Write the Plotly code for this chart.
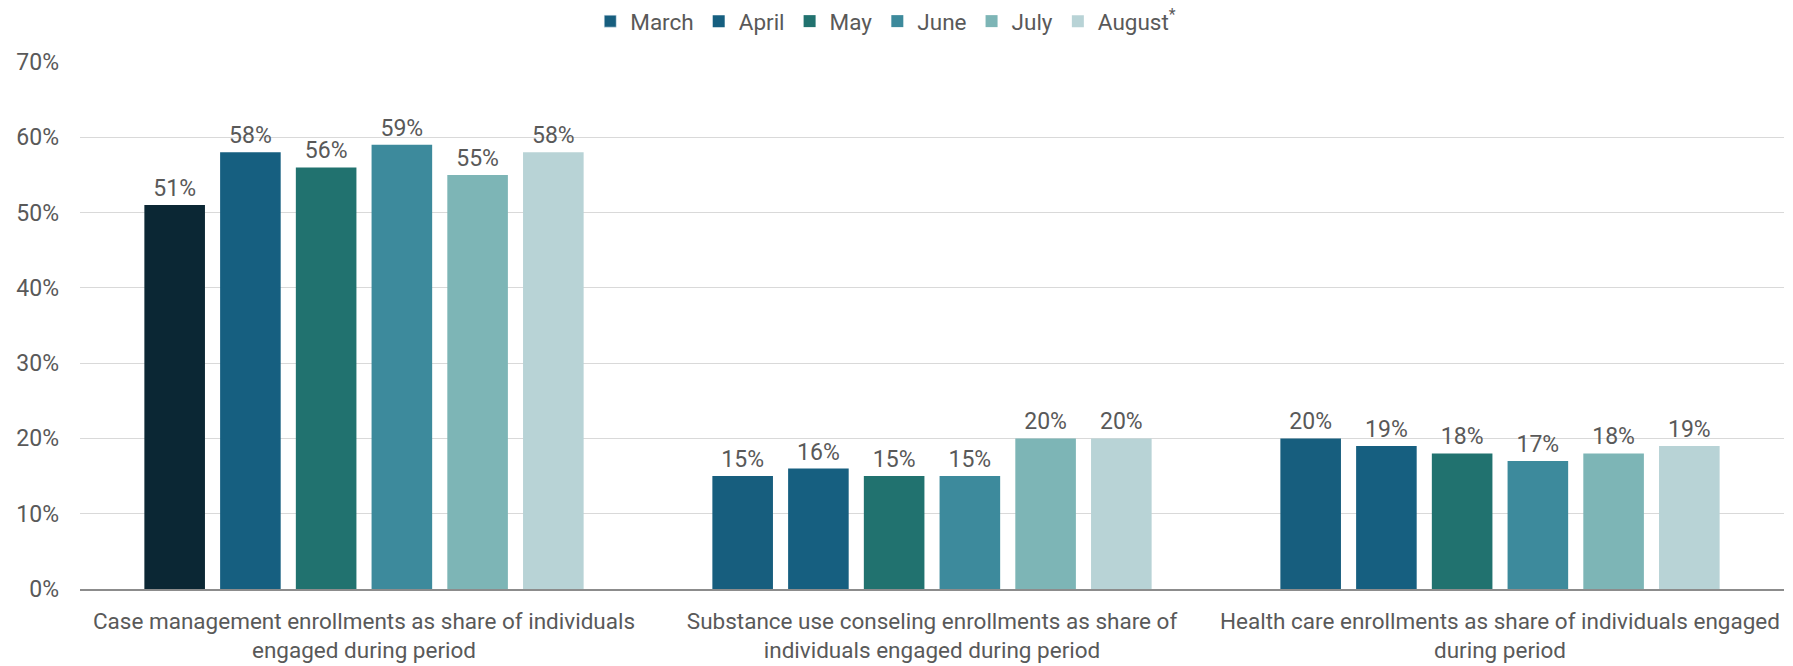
import plotly.graph_objects as go

categories = [
    "Case management enrollments as share of individuals<br>engaged during period",
    "Substance use conseling enrollments as share of<br>individuals engaged during period",
    "Health care enrollments as share of individuals engaged<br>during period",
]
months = ["March", "April", "May", "June", "July", "August<sup>*</sup>"]
march = [0.51, 0.15, 0.20]
april = [0.58, 0.16, 0.19]
may = [0.56, 0.15, 0.18]
june = [0.59, 0.15, 0.17]
july = [0.55, 0.20, 0.18]
august = [0.58, 0.20, 0.19]
series = [march, april, may, june, july, august]

colors = ["#175e7e", "#165f80", "#21726f", "#3d8a9c", "#7db5b6", "#b8d3d6"]
march_bar_colors = ["#0b2734", "#175e7e", "#175e7e"]

font_family = "Roboto, 'Noto Sans', sans-serif"
text_color = "#595959"

fig = go.Figure()
for i, (name, vals) in enumerate(zip(months, series)):
    mc = march_bar_colors if i == 0 else colors[i]
    fig.add_trace(go.Bar(
        x=categories, y=vals, name=name, offsetgroup=str(i),
        marker=dict(color=mc, line=dict(width=0)),
        text=[f"{round(v*100)}%" for v in vals],
        textposition="outside",
        textfont=dict(size=23, color=text_color, family=font_family),
        cliponaxis=False, showlegend=(i != 0), legendrank=i + 1,
    ))
    if i == 0:
        fig.add_trace(go.Bar(x=[categories[0]], y=[None], name=name, offsetgroup="0",
                             marker_color=colors[0], showlegend=True, legendrank=0))

fig.update_layout(
    width=1793, height=666,
    barmode="group", bargap=0.2, bargroupgap=0.2,
    plot_bgcolor="white", paper_bgcolor="white",
    margin=dict(l=80, r=9, t=62, b=77, autoexpand=False),
    font=dict(family=font_family, color=text_color, size=22),
    legend=dict(orientation="h", x=0.494, xanchor="center", xref="container",
                y=1.0, yanchor="top", yref="container",
                font=dict(size=22.5, color=text_color),
                itemwidth=30, traceorder="normal"),
)
fig.update_yaxes(range=[0, 0.7], dtick=0.1, tickformat=".0%", showgrid=True,
                 gridcolor="#d9d9d9", gridwidth=1, zeroline=False, automargin=False,
                 tickfont=dict(size=23, color=text_color), ticklabelstandoff=20)
fig.update_xaxes(showline=True, linecolor="#8c8c8c", linewidth=1.5, automargin=False,
                 tickfont=dict(size=22.5, color=text_color), ticks="", ticklabelstandoff=11)
fig.write_html("out.html")
